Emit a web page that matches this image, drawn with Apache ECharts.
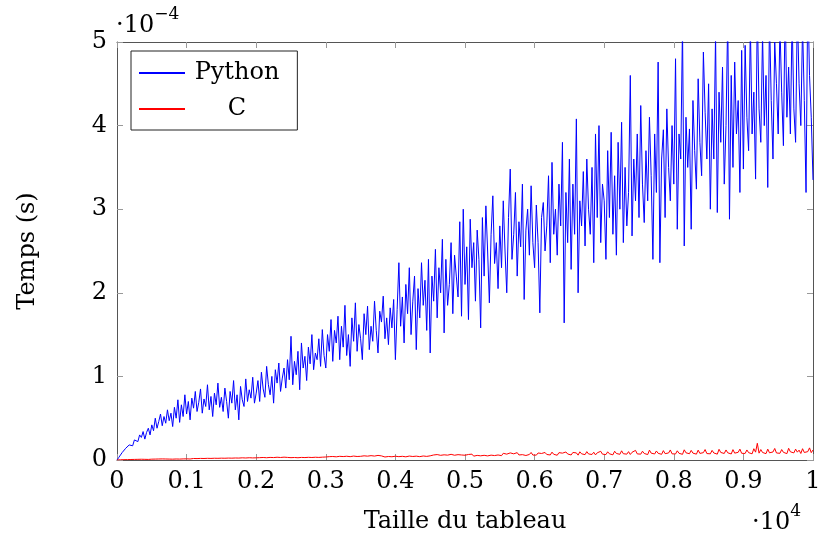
<!DOCTYPE html>
<html><head><meta charset="utf-8">
<script src="https://cdn.jsdelivr.net/npm/echarts@6/dist/echarts.min.js"></script>
<style>html,body{margin:0;padding:0;background:#fff}#c{width:820px;height:533px}</style>
</head><body><div id="c"></div>
<script>
// Array sizes (x), measured every 25 elements from 0 to 10000
const sizeStep = 25;
const xTickLabels = ['0','0.1','0.2','0.3','0.4','0.5','0.6','0.7','0.8','0.9','1'];
const yTickLabels = ['0','1','2','3','4','5'];
// Times in units of 1e-4 s
const pythonTimes = [
0,0.03,0.06,0.09,0.11,0.14,0.13,0.18,0.2,0.17,0.24,0.26,0.22,0.3,0.27,0.34,0.25,0.33,0.38,0.3,
0.42,0.35,0.5,0.38,0.46,0.55,0.41,0.52,0.44,0.6,0.47,0.56,0.4,0.63,0.5,0.72,0.45,0.66,0.52,0.78,
0.55,0.7,0.48,0.74,0.62,0.82,0.58,0.69,0.85,0.56,0.73,0.64,0.9,0.6,0.76,0.52,0.8,0.66,0.92,0.63,
0.75,0.58,0.86,0.7,0.5,0.82,0.68,0.95,0.6,0.78,0.48,0.88,0.72,0.64,0.97,0.7,0.84,0.74,0.99,0.68,
0.8,0.95,0.7,1.05,0.85,0.75,1.12,0.9,0.78,1.0,0.68,1.08,0.92,1.16,0.82,0.98,1.1,0.86,1.2,0.96,
1.48,0.9,1.18,1.02,1.3,0.84,1.4,1.1,1.24,0.95,1.35,1.15,1.5,1.08,1.28,1.2,1.45,1.12,1.56,1.25,
1.1,1.5,1.3,1.68,1.18,1.55,1.4,1.72,1.2,1.6,1.35,1.85,1.25,1.5,1.12,1.7,1.42,1.88,1.3,1.62,
1.45,1.2,1.75,1.5,1.84,1.32,1.6,1.42,1.9,1.55,1.28,1.78,1.65,1.96,1.45,1.7,1.38,1.82,1.58,1.92,
1.2,1.8,2.36,1.6,1.95,1.4,2.1,1.75,2.3,1.5,1.9,2.2,1.32,2.05,1.7,2.36,1.85,2.15,1.55,2.4,
1.28,2.2,1.9,2.52,1.7,2.3,2.0,2.64,1.52,2.4,1.85,2.1,2.6,1.75,2.45,2.2,1.95,2.85,1.72,3.0,
2.1,2.55,1.68,2.88,2.3,2.6,1.9,2.75,2.4,1.58,2.9,2.2,3.04,2.5,1.88,2.7,3.16,2.35,2.6,2.05,
2.8,2.3,3.1,2.5,2.0,2.9,3.48,2.4,2.7,3.2,2.2,2.85,2.55,3.3,1.92,2.75,3.0,2.45,3.28,2.6,
2.3,3.05,2.6,1.76,2.9,3.08,2.5,2.8,3.4,2.36,3.56,2.7,3.0,2.45,3.3,2.8,3.8,1.64,3.2,2.6,
3.6,2.28,3.3,2.7,4.08,2.0,3.1,2.8,3.45,2.56,3.6,3.0,2.7,3.5,2.36,3.9,2.9,4.0,2.6,3.3,
3.1,2.4,3.7,2.9,3.92,2.7,3.4,2.45,3.8,3.0,4.04,2.6,3.5,2.8,3.2,4.6,2.68,3.6,3.1,3.9,
2.9,4.24,3.3,2.84,3.7,3.1,4.1,3.4,2.4,3.9,3.2,4.76,2.36,3.6,3.95,2.9,4.2,3.5,3.1,4.0,
3.3,4.8,2.76,3.9,3.6,5.2,2.56,4.1,3.5,3.96,2.76,4.3,3.7,3.24,4.56,3.8,3.4,4.88,4.16,3.6,
4.5,3.0,4.2,3.6,5.1,2.96,4.4,3.8,4.7,3.3,4.0,5.3,2.88,4.6,3.5,4.76,3.9,4.3,3.2,4.9,
3.48,4.96,4.1,3.7,5.2,3.9,4.4,3.36,5.4,4.2,3.8,5.1,4.0,4.6,3.26,5.3,4.3,3.6,5.0,4.5,
3.9,5.2,4.4,3.76,5.5,4.1,4.7,3.9,5.3,4.2,3.8,5.4,4.5,4.0,5.2,4.3,3.2,5.6,4.6,4.1,
3.35];
const cTimes = [
0,0.002,0.003,0.002,0.004,0.003,0.005,0.004,0.006,0.005,0.007,0.006,0.008,0.006,0.009,0.007,0.008,0.01,0.007,0.009,
0.01,0.008,0.011,0.009,0.012,0.01,0.013,0.009,0.012,0.014,0.011,0.013,0.01,0.015,0.012,0.014,0.011,0.016,0.013,0.015,
0.014,0.017,0.012,0.016,0.018,0.013,0.017,0.015,0.019,0.014,0.018,0.016,0.02,0.015,0.019,0.017,0.021,0.016,0.02,0.018,
0.022,0.017,0.021,0.019,0.023,0.018,0.022,0.02,0.024,0.019,0.023,0.021,0.026,0.02,0.024,0.022,0.027,0.021,0.025,0.023,
0.026,0.022,0.028,0.024,0.03,0.023,0.027,0.025,0.031,0.024,0.029,0.026,0.033,0.025,0.03,0.027,0.034,0.026,0.031,0.029,
0.028,0.034,0.03,0.036,0.027,0.033,0.031,0.038,0.029,0.035,0.032,0.04,0.03,0.036,0.033,0.041,0.031,0.037,0.034,0.039,
0.036,0.031,0.04,0.034,0.042,0.032,0.038,0.035,0.044,0.033,0.041,0.037,0.045,0.034,0.04,0.038,0.047,0.035,0.042,0.039,
0.044,0.036,0.05,0.039,0.046,0.034,0.052,0.041,0.047,0.038,0.055,0.04,0.049,0.043,0.036,0.054,0.042,0.05,0.039,0.048,
0.045,0.052,0.04,0.058,0.044,0.05,0.038,0.056,0.047,0.053,0.042,0.06,0.046,0.051,0.04,0.062,0.048,0.055,0.043,0.057,
0.05,0.044,0.06,0.047,0.065,0.042,0.056,0.049,0.062,0.045,0.058,0.051,0.068,0.046,0.057,0.05,0.064,0.048,0.06,0.053,
0.057,0.048,0.066,0.052,0.07,0.046,0.061,0.055,0.072,0.05,0.064,0.056,0.075,0.049,0.062,0.058,0.078,0.053,0.067,0.06,
0.065,0.052,0.08,0.058,0.07,0.05,0.085,0.062,0.074,0.055,0.088,0.06,0.072,0.064,0.082,0.054,0.076,0.066,0.09,0.059,
0.07,0.058,0.084,0.063,0.078,0.055,0.09,0.066,0.08,0.06,0.094,0.068,0.075,0.057,0.088,0.07,0.082,0.062,0.096,0.072,
0.078,0.06,0.09,0.07,0.085,0.058,0.098,0.074,0.082,0.064,0.1,0.072,0.088,0.066,0.093,0.061,0.086,0.076,0.104,0.07,
0.082,0.065,0.098,0.074,0.09,0.062,0.105,0.078,0.088,0.068,0.11,0.075,0.094,0.07,0.1,0.066,0.092,0.08,0.115,0.073,
0.088,0.07,0.105,0.078,0.096,0.065,0.118,0.082,0.092,0.072,0.108,0.08,0.1,0.068,0.112,0.076,0.095,0.084,0.12,0.074,
0.09,0.072,0.11,0.08,0.1,0.068,0.122,0.086,0.095,0.075,0.115,0.082,0.104,0.07,0.118,0.079,0.098,0.088,0.125,0.077,
0.095,0.074,0.115,0.084,0.105,0.07,0.128,0.09,0.1,0.078,0.12,0.086,0.108,0.072,0.124,0.082,0.102,0.092,0.13,0.08,
0.1,0.078,0.12,0.088,0.11,0.074,0.135,0.094,0.2,0.082,0.125,0.09,0.112,0.076,0.13,0.086,0.106,0.096,0.138,0.084,
0.104,0.08,0.125,0.092,0.115,0.076,0.14,0.098,0.11,0.085,0.13,0.094,0.118,0.078,0.135,0.09,0.11,0.1,0.145,0.088,
0.12];

const FONT = '"DejaVu Serif", "Liberation Serif", serif';
const FS = 24;
const pyData = pythonTimes.map((v, i) => [i * sizeStep, v]);
const cData = cTimes.map((v, i) => [i * sizeStep, v]);

const chart = echarts.init(document.getElementById('c'), null, {renderer: 'canvas'});
const tickStyle = {show: true, inside: true, length: 6, lineStyle: {color: '#999', width: 1}};
const lineStyleAxis = {show: true, onZero: false, lineStyle: {color: '#555', width: 1}};
chart.setOption({
  animation: false,
  backgroundColor: '#fff',
  grid: {left: 117, right: 7, top: 42, bottom: 73, containLabel: false, outerBoundsMode: 'none'},
  legend: {
    left: 131, top: 51, orient: 'vertical',
    data: ['Python', 'C'],
    borderColor: '#222', borderWidth: 1, borderRadius: 0,
    padding: [10, 18, 9, 8], itemGap: 12,
    itemWidth: 46, itemHeight: 2,
    icon: 'rect',
    formatter: name => '{t|' + name + '}',
    textStyle: {fontFamily: FONT, fontSize: FS, color: '#000',
      rich: {t: {fontFamily: FONT, fontSize: FS, color: '#000', width: 94, align: 'center'}}}
  },
  xAxis: [{
    type: 'value', min: 0, max: 10000, interval: 1000, position: 'bottom',
    axisLine: lineStyleAxis, axisTick: tickStyle, splitLine: {show: false},
    axisLabel: {margin: 10, fontFamily: FONT, fontSize: FS, color: '#000',
      formatter: v => xTickLabels[Math.round(v / 1000)]},
    name: 'Taille du tableau', nameLocation: 'middle', nameGap: 50,
    nameTextStyle: {fontFamily: FONT, fontSize: FS, color: '#000'}
  }, {
    type: 'value', min: 0, max: 10000, interval: 1000, position: 'top',
    axisLine: lineStyleAxis, axisTick: tickStyle, axisLabel: {show: false}, splitLine: {show: false}
  }],
  yAxis: [{
    type: 'value', min: 0, max: 5, interval: 1, position: 'left',
    axisLine: lineStyleAxis, axisTick: tickStyle, splitLine: {show: false},
    axisLabel: {margin: 10, fontFamily: FONT, fontSize: FS, color: '#000',
      formatter: v => yTickLabels[Math.round(v)]},
    name: 'Temps (s)', nameLocation: 'middle', nameGap: 77,
    nameTextStyle: {fontFamily: FONT, fontSize: FS, color: '#000'}
  }, {
    type: 'value', min: 0, max: 5, interval: 1, position: 'right',
    axisLine: lineStyleAxis, axisTick: tickStyle, axisLabel: {show: false}, splitLine: {show: false}
  }],
  graphic: [{
    type: 'text', left: 116, top: 6,
    style: {
      text: '{a|·10}{b|−4}',
      rich: {
        a: {fontFamily: FONT, fontSize: FS, fill: '#000', padding: [8, 0, 0, 0]},
        b: {fontFamily: FONT, fontSize: 17, fill: '#000', verticalAlign: 'top'}
      }
    }
  }, {
    type: 'text', left: 752, top: 503,
    style: {
      text: '{a|·10}{b|4}',
      rich: {
        a: {fontFamily: FONT, fontSize: FS, fill: '#000', padding: [8, 0, 0, 0]},
        b: {fontFamily: FONT, fontSize: 17, fill: '#000', verticalAlign: 'top'}
      }
    }
  }],
  series: [{
    name: 'Python', type: 'line', data: pyData, showSymbol: false, symbol: 'none',
    lineStyle: {color: '#0000ff', width: 1}, itemStyle: {color: '#0000ff'}, clip: true
  }, {
    name: 'C', type: 'line', data: cData, showSymbol: false, symbol: 'none',
    lineStyle: {color: '#ff0000', width: 1}, itemStyle: {color: '#ff0000'}, clip: true
  }]
});
</script></body></html>
